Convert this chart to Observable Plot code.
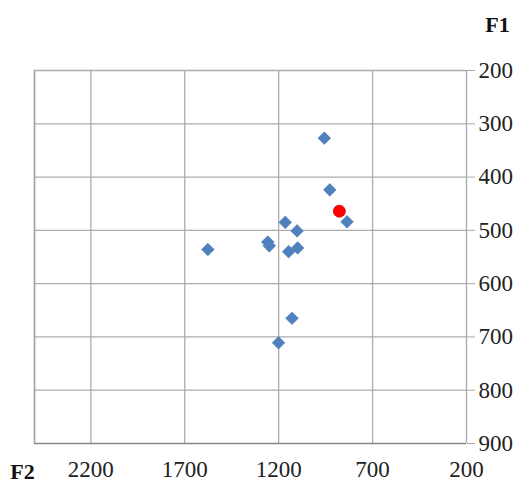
<!DOCTYPE html>
<html>
<head>
<meta charset="utf-8">
<script src="https://cdn.jsdelivr.net/npm/d3@7"></script>
<script src="https://cdn.jsdelivr.net/npm/@observablehq/plot@0.6"></script>
<style>
  html, body { margin: 0; padding: 0; background: #fff; }
  #chart svg { display: block; }
</style>
</head>
<body>
<div id="chart"></div>
<script>
// Blue diamonds: F2 (x) and F1 (y)
const blueF2 = [957, 928, 836, 1165, 1102, 1258, 1250, 1577, 1147, 1099, 1129, 1201];
const blueF1 = [327, 424, 484, 485, 501, 522, 529, 536, 540, 533, 665, 711];
// Red circle
const redF2 = [877];
const redF1 = [464];
// Tick labels
const xTicks = [2200, 1700, 1200, 700, 200];
const yTicks = [200, 300, 400, 500, 600, 700, 800, 900];
const xGrid = [2200, 1700, 1200, 700];
const yGrid = [300, 400, 500, 600, 700, 800];

const blue = blueF2.map((f2, i) => ({f2, f1: blueF1[i]}));
const red = redF2.map((f2, i) => ({f2, f1: redF1[i]}));

const font = "'Liberation Serif', 'Times New Roman', serif";

const chart = Plot.plot({
  width: 522,
  height: 493,
  marginLeft: 34,
  marginRight: 56,
  marginTop: 70,
  marginBottom: 50,
  style: {fontFamily: font, fontSize: "23px", color: "#222", background: "#fff"},
  x: {domain: [2500, 200], label: null},
  y: {domain: [200, 900], reverse: true, label: null},
  marks: [
    Plot.gridX(xGrid, {stroke: "#adadad", strokeOpacity: 1, strokeWidth: 1.3}),
    Plot.gridY(yGrid, {stroke: "#adadad", strokeOpacity: 1, strokeWidth: 1.3}),
    Plot.ruleX([2500], {stroke: "#a0a0a0", strokeWidth: 1.6}),
    Plot.ruleY([200], {stroke: "#adadad", strokeWidth: 1.3}),
    Plot.ruleX([200], {stroke: "#a8a8a8", strokeWidth: 1.3}),
    Plot.ruleY([900], {stroke: "#888", strokeWidth: 1.6}),
    Plot.axisY(yTicks, {anchor: "right", tickSize: 8, tickPadding: 4, tickFormat: "d", stroke: "#a8a8a8", fill: "#222", fontSize: 23, label: null}),
    Plot.axisX(xTicks, {anchor: "bottom", tickSize: 0, tickPadding: 17, tickFormat: "d", fill: "#222", fontSize: 23, label: null}),
    Plot.dot(blue, {x: "f2", y: "f1", symbol: "diamond2", r: 5.7, fill: "#4f81bd", stroke: "#4a7ab4", strokeWidth: 0.6}),
    Plot.dot(red, {x: "f2", y: "f1", symbol: "circle", r: 6, fill: "#ff0000", stroke: "#d00000", strokeWidth: 0.8}),
    Plot.text(["F1"], {frameAnchor: "top-right", textAnchor: "middle", lineAnchor: "middle", dx: 31, dy: -46, fontWeight: "bold", fontSize: 22, fill: "#111"}),
    Plot.text(["F2"], {frameAnchor: "bottom-left", textAnchor: "middle", lineAnchor: "middle", dx: -12, dy: 28, fontWeight: "bold", fontSize: 22, fill: "#111"})
  ]
});
document.getElementById("chart").appendChild(chart);
</script>
</body>
</html>
